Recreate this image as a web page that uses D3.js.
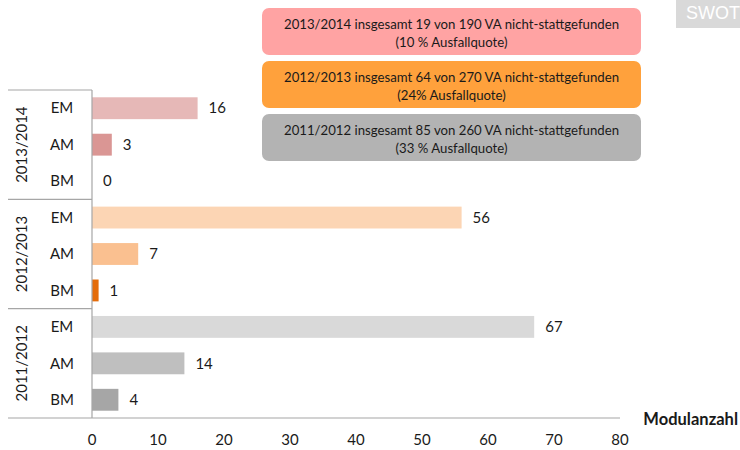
<!DOCTYPE html>
<html>
<head>
<meta charset="utf-8">
<script src="https://cdn.jsdelivr.net/npm/d3@7"></script>
<style>
  body { margin: 0; background: #fff; }
  svg { display: block; font-family: Lato, "Open Sans", sans-serif; }
</style>
</head>
<body>
<svg id="chart" width="740" height="450"></svg>
<script>
// Data
const years = ["2013/2014", "2012/2013", "2011/2012"];
const types = ["EM", "AM", "BM"];
const values = [
  [16, 3, 0],
  [56, 7, 1],
  [67, 14, 4]
];
const barColors = [
  ["#e6b8b7", "#da9694", "#c0504d"],
  ["#fcd5b4", "#fac090", "#e46c0a"],
  ["#d9d9d9", "#bfbfbf", "#a6a6a6"]
];
const xTicks = [0, 10, 20, 30, 40, 50, 60, 70, 80];
const noteLines = [
  ["2013/2014 insgesamt 19 von 190 VA nicht-stattgefunden", "(10 % Ausfallquote)"],
  ["2012/2013 insgesamt 64 von 270 VA nicht-stattgefunden", "(24% Ausfallquote)"],
  ["2011/2012 insgesamt 85 von 260 VA nicht-stattgefunden", "(33 % Ausfallquote)"]
];
const noteColors = ["#ffa3a3", "#ffa13c", "#b3b3b3"];

const rows = [];
years.forEach((yr, g) => types.forEach((t, i) => {
  rows.push({ key: yr + "-" + t, year: yr, type: t, value: values[g][i], color: barColors[g][i] });
}));

const svg = d3.select("#chart");
const plotTop = 90, plotBottom = 418, plotLeft = 92, plotRight = 620;
const fs = 15;

const x = d3.scaleLinear().domain([0, 80]).range([plotLeft, plotRight]);
const y = d3.scaleBand()
  .domain(rows.map(d => d.key))
  .range([plotTop, plotBottom])
  .paddingInner(0.4)
  .paddingOuter(0.2);
const yGroup = d3.scaleBand().domain(years).range([plotTop, plotBottom]);

// bars
svg.append("g")
  .selectAll("rect")
  .data(rows)
  .enter()
  .append("rect")
  .attr("x", x(0))
  .attr("y", d => y(d.key))
  .attr("width", d => x(d.value) - x(0))
  .attr("height", y.bandwidth())
  .attr("fill", d => d.color);

// value labels
svg.append("g")
  .selectAll("text")
  .data(rows)
  .enter()
  .append("text")
  .attr("x", d => x(d.value) + 11)
  .attr("y", d => y(d.key) + y.bandwidth() / 2)
  .attr("dy", "0.35em")
  .attr("font-size", fs)
  .attr("fill", "#1a1a1a")
  .text(d => d.value);

// category labels
svg.append("g")
  .selectAll("text")
  .data(rows)
  .enter()
  .append("text")
  .attr("x", 62)
  .attr("y", d => y(d.key) + y.bandwidth() / 2)
  .attr("dy", "0.35em")
  .attr("text-anchor", "middle")
  .attr("font-size", fs)
  .attr("fill", "#1a1a1a")
  .text(d => d.type);

// year labels
svg.append("g")
  .selectAll("text")
  .data(years)
  .enter()
  .append("text")
  .attr("transform", d => `translate(22,${yGroup(d) + yGroup.bandwidth() / 2}) rotate(-90)`)
  .attr("dy", "0.35em")
  .attr("text-anchor", "middle")
  .attr("font-size", fs)
  .attr("fill", "#1a1a1a")
  .text(d => d);

// axis lines and group separators
const lineColor = "#a6a6a6";
svg.append("line")
  .attr("x1", plotLeft).attr("x2", plotLeft)
  .attr("y1", plotTop).attr("y2", plotBottom)
  .attr("stroke", lineColor).attr("stroke-width", 1.2);
svg.append("g")
  .selectAll("line")
  .data(years)
  .enter()
  .append("line")
  .attr("x1", 8).attr("x2", plotLeft)
  .attr("y1", d => yGroup(d)).attr("y2", d => yGroup(d))
  .attr("stroke", lineColor).attr("stroke-width", 1.2);
svg.append("line")
  .attr("x1", 8).attr("x2", plotRight)
  .attr("y1", plotBottom).attr("y2", plotBottom)
  .attr("stroke", lineColor).attr("stroke-width", 1.2);

// x axis tick labels
svg.append("g")
  .selectAll("text")
  .data(xTicks)
  .enter()
  .append("text")
  .attr("x", d => x(d))
  .attr("y", 440)
  .attr("dy", "0.35em")
  .attr("text-anchor", "middle")
  .attr("font-size", fs)
  .attr("fill", "#1a1a1a")
  .text(d => d);

svg.append("text")
  .attr("x", 738)
  .attr("y", 419)
  .attr("dy", "0.35em")
  .attr("text-anchor", "end")
  .attr("font-size", 16.5)
  .attr("font-weight", "bold")
  .attr("fill", "#1a1a1a")
  .text("Modulanzahl");

// note boxes
const notes = svg.append("g")
  .selectAll("g")
  .data(noteLines)
  .enter()
  .append("g")
  .attr("transform", (d, i) => `translate(262,${8 + i * 53})`);
notes.append("rect")
  .attr("width", 379)
  .attr("height", 47)
  .attr("rx", 7)
  .attr("fill", (d, i) => noteColors[i]);
notes.append("text")
  .attr("x", 379 / 2)
  .attr("y", 16)
  .attr("dy", "0.35em")
  .attr("text-anchor", "middle")
  .attr("font-size", 13.2)
  .attr("fill", "#1a1a1a")
  .text(d => d[0]);
notes.append("text")
  .attr("x", 379 / 2)
  .attr("y", 34)
  .attr("dy", "0.35em")
  .attr("text-anchor", "middle")
  .attr("font-size", 13.2)
  .attr("fill", "#1a1a1a")
  .text(d => d[1]);

// SWOT tag
svg.append("rect")
  .attr("x", 676).attr("y", 0)
  .attr("width", 64).attr("height", 28)
  .attr("fill", "#d9d9d9");
svg.append("text")
  .attr("x", 686).attr("y", 13)
  .attr("dy", "0.35em")
  .attr("font-family", "'Liberation Sans', Arial, sans-serif")
  .attr("font-size", 18)
  .attr("fill", "#fff")
  .text("SWOT");
</script>
</body>
</html>
